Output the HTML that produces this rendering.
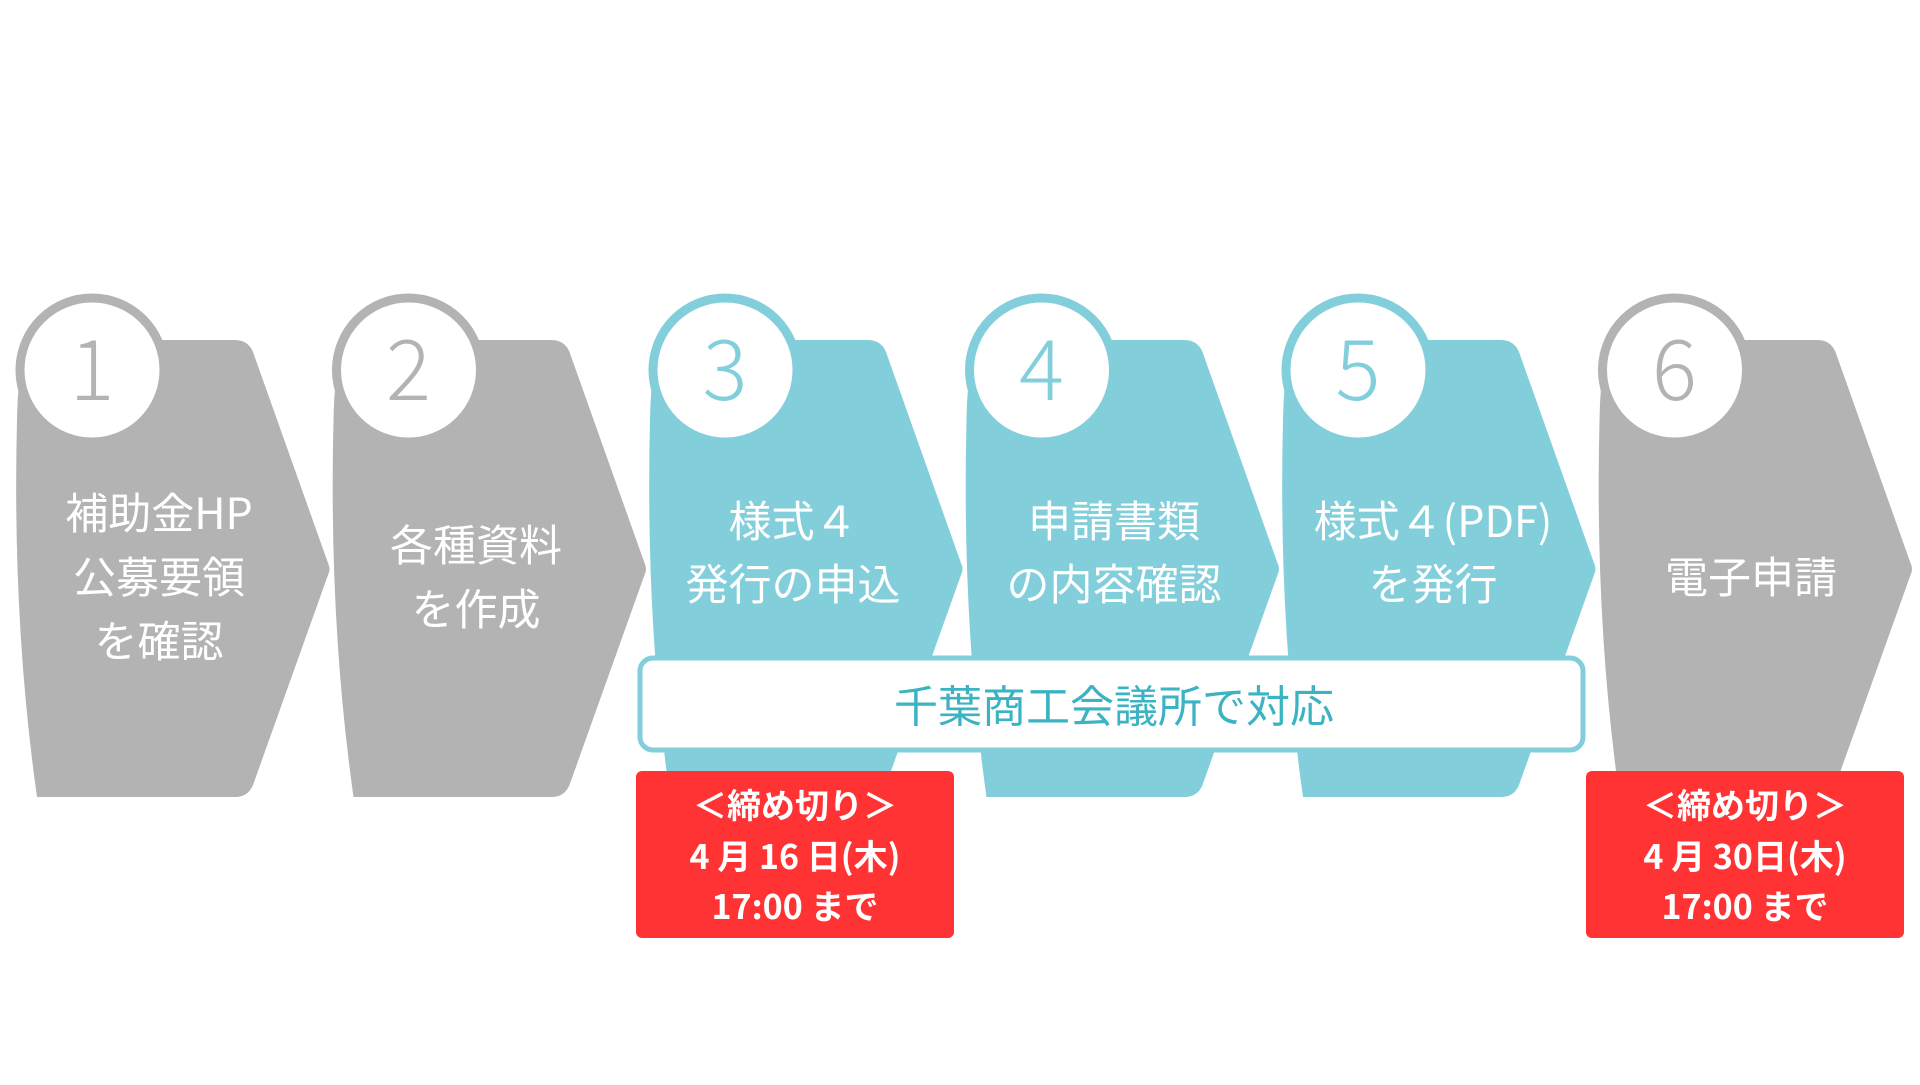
<!DOCTYPE html>
<html><head><meta charset="utf-8"><style>
body{margin:0;background:#fff;width:1920px;height:1080px;overflow:hidden}
svg text{font-family:"Noto Sans CJK JP",sans-serif}
</style></head><body>
<svg width="1920" height="1080" xmlns="http://www.w3.org/2000/svg">
<defs>
<path id="sh" d="M30,340 L235,340 Q248,340 253,352 L328,563 Q331,569 328,575 L253,785 Q248,797 235,797 L37,797 Q12,620 17,420 Q18,360 30,340 Z"/>
</defs>
<use href="#sh" x="0" fill="#b3b3b3"/>
<use href="#sh" x="316.5" fill="#b3b3b3"/>
<use href="#sh" x="633" fill="#82cfdb"/>
<use href="#sh" x="949.5" fill="#82cfdb"/>
<use href="#sh" x="1266" fill="#82cfdb"/>
<use href="#sh" x="1582.5" fill="#b3b3b3"/>
<g stroke-width="9" fill="#fff">
<circle cx="92" cy="370" r="72" stroke="#b3b3b3"/>
<circle cx="408.5" cy="370" r="72" stroke="#b3b3b3"/>
<circle cx="725" cy="370" r="72" stroke="#82cfdb"/>
<circle cx="1041.5" cy="370" r="72" stroke="#82cfdb"/>
<circle cx="1358" cy="370" r="72" stroke="#82cfdb"/>
<circle cx="1674.5" cy="370" r="72" stroke="#b3b3b3"/>
</g>
<g font-size="84" font-weight="300" text-anchor="middle">
<text x="92" y="400" fill="#b3b3b3">1</text>
<text x="408.5" y="400" fill="#b3b3b3">2</text>
<text x="725" y="400" fill="#82cfdb">3</text>
<text x="1041.5" y="400" fill="#82cfdb">4</text>
<text x="1358" y="400" fill="#82cfdb">5</text>
<text x="1674.5" y="400" fill="#b3b3b3">6</text>
</g>
<g font-size="43" fill="#fff" text-anchor="middle">
<text x="159" y="529">補助金HP</text>
<text x="159" y="593">公募要領</text>
<text x="159" y="657">を確認</text>
<text x="476" y="561">各種資料</text>
<text x="476" y="625">を作成</text>
<text x="793" y="537">様式４</text>
<text x="793" y="600">発行の申込</text>
<text x="1114" y="537">申請書類</text>
<text x="1114" y="600">の内容確認</text>
<text x="1433" y="537">様式４(PDF)</text>
<text x="1433" y="600">を発行</text>
<text x="1751" y="593">電子申請</text>
</g>
<rect x="640" y="658" width="943" height="92" rx="13" fill="#fff" stroke="#82cfdb" stroke-width="5"/>
<text x="1114" y="722" font-size="44" fill="#3bb3c3" text-anchor="middle">千葉商工会議所で対応</text>
<rect x="636" y="771" width="318" height="167" rx="6" fill="#ff3333"/>
<rect x="1586" y="771" width="318" height="167" rx="6" fill="#ff3333"/>
<g font-size="34" font-weight="bold" fill="#fff" text-anchor="middle">
<text x="795" y="818">＜締め切り＞</text>
<text x="795" y="869">4 月 16 日(木)</text>
<text x="795" y="919">17:00 まで</text>
<text x="1745" y="818">＜締め切り＞</text>
<text x="1745" y="869">4 月 30日(木)</text>
<text x="1745" y="919">17:00 まで</text>
</g>
</svg>
</body></html>
